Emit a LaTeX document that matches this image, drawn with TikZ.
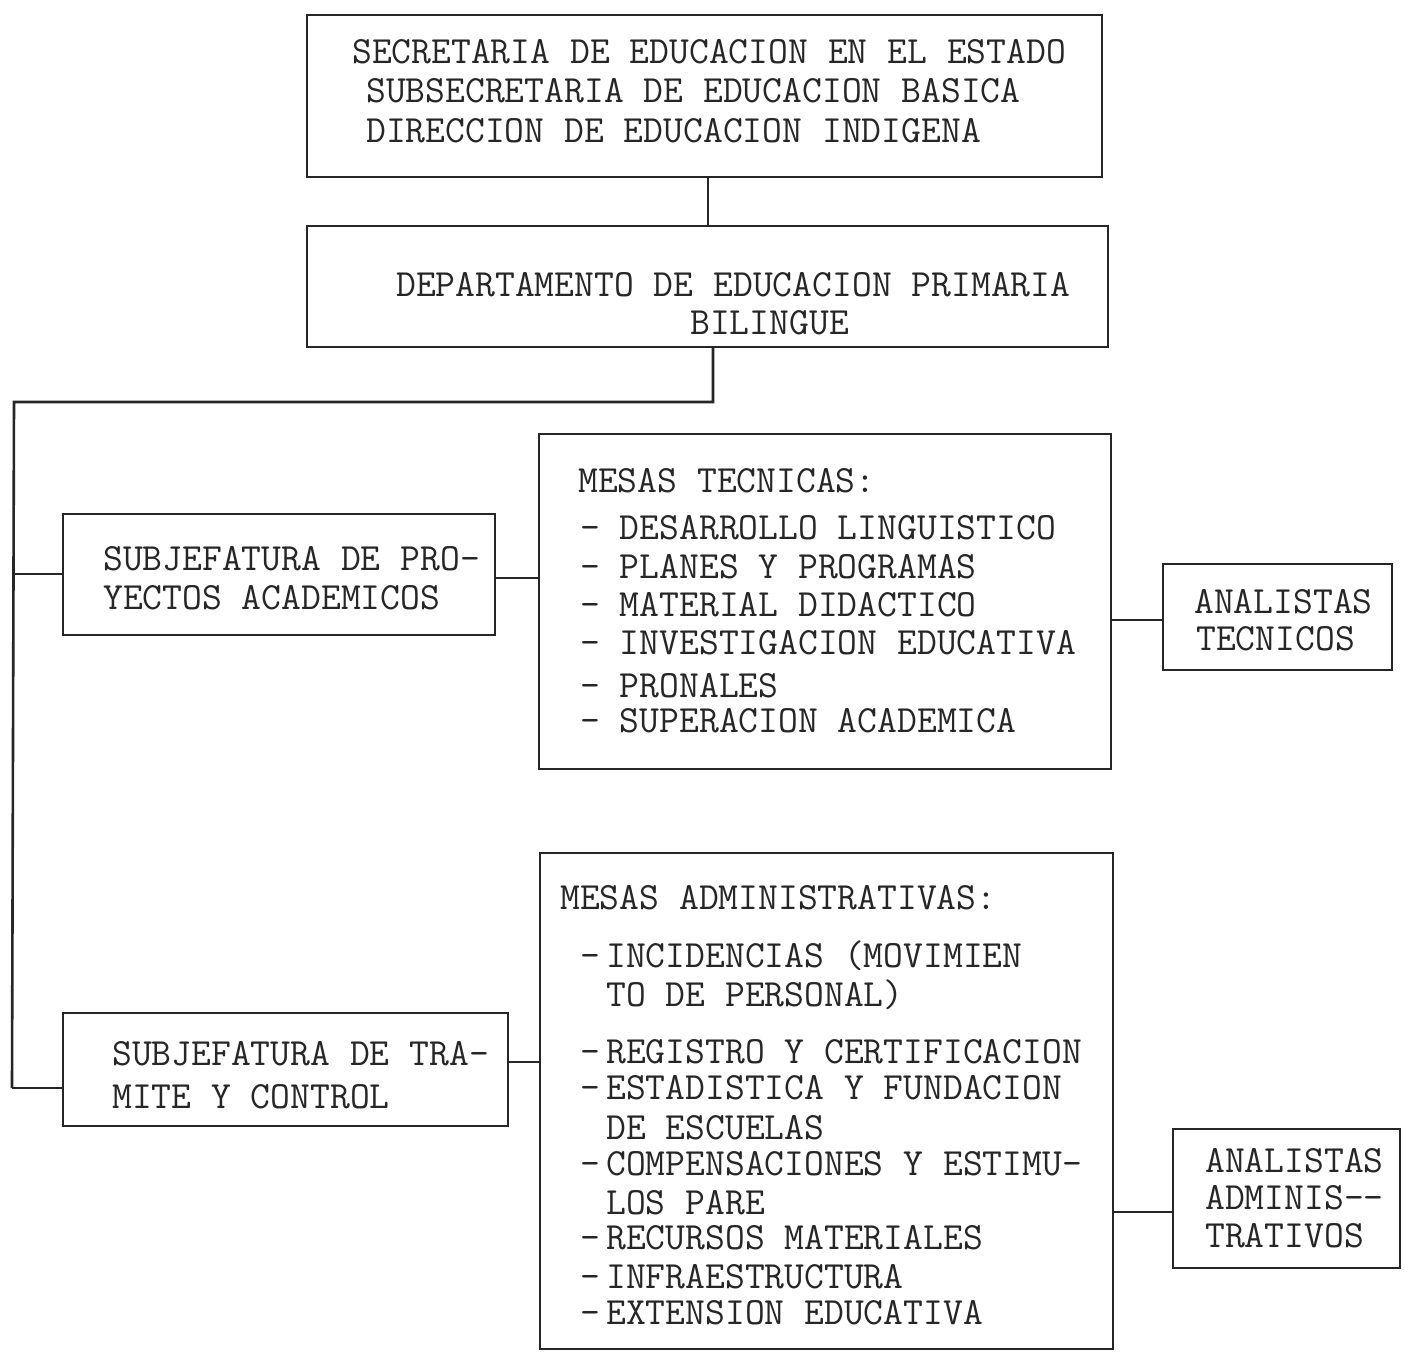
\documentclass[tikz,border=0pt]{standalone}
\usepackage{fontspec}
\begin{document}
\begin{tikzpicture}[x=1pt,y=-1pt,
  box/.style={draw=black!85, line width=1.6pt, inner sep=0pt},
  conn/.style={draw=black!85, line width=1.6pt},
  trunk/.style={draw=black!85, line width=2.6pt},
  txt/.style={anchor=base west, inner sep=0pt, font=\fontsize{38.5}{46}\selectfont\ttfamily, text=black!85}]
\useasboundingbox (0,0) rectangle (1404,1357);
\fill[white] (0,0) rectangle (1404,1357);

% boxes
\node[box, minimum width=795, minimum height=162] (b1) at (704.5,96) {};
\node[box, minimum width=801, minimum height=121] (b2) at (707.5,286.5) {};
\node[box, minimum width=432, minimum height=121] (b3) at (279,574.5) {};
\node[box, minimum width=572, minimum height=335] (b4) at (825,601.5) {};
\node[box, minimum width=229, minimum height=106] (b5) at (1277.5,617) {};
\node[box, minimum width=445, minimum height=113] (b6) at (285.5,1069.5) {};
\node[box, minimum width=573, minimum height=496] (b7) at (826.5,1101) {};
\node[box, minimum width=227, minimum height=139] (b8) at (1286.5,1198.5) {};

% texts
\node[txt] (t1a) at (352,63) {SECRETARIA DE EDUCACION EN EL ESTADO};
\node[txt] (t1b) at (366,102) {SUBSECRETARIA DE EDUCACION BASICA};
\node[txt] (t1c) at (366,142) {DIRECCION DE EDUCACION INDIGENA};

\node[txt] (t2a) at (396,296) {DEPARTAMENTO DE EDUCACION PRIMARIA};
\node[txt] (t2b) at (690,334) {BILINGUE};

\node[txt] (t3a) at (103,570) {SUBJEFATURA DE PRO-};
\node[txt] (t3b) at (103,609) {YECTOS ACADEMICOS};

\node[txt] (t4a) at (578,492) {MESAS TECNICAS:};
\node[txt] (t4b) at (580,539) {- DESARROLLO LINGUISTICO};
\node[txt] (t4c) at (580,578) {- PLANES Y PROGRAMAS};
\node[txt] (t4d) at (580,616) {- MATERIAL DIDACTICO};
\node[txt] (t4e) at (580,654) {- INVESTIGACION EDUCATIVA};
\node[txt] (t4f) at (580,697) {- PRONALES};
\node[txt] (t4g) at (580,732) {- SUPERACION ACADEMICA};

\node[txt] (t5a) at (1194,613) {ANALISTAS};
\node[txt] (t5b) at (1196,650) {TECNICOS};

\node[txt] (t6a) at (112,1065) {SUBJEFATURA DE TRA-};
\node[txt] (t6b) at (112,1108) {MITE Y CONTROL};

\node[txt] (t7a) at (560,909) {MESAS ADMINISTRATIVAS:};
\foreach \n/\yy in {d1/967,d3/1063,d4/1099,d6/1175,d8/1249,d9/1288,d10/1324}
  \node[txt] (\n) at (580,\yy) {-};
\node[txt] (t7b) at (606,967) {INCIDENCIAS (MOVIMIEN};
\node[txt] (t7c) at (606,1006) {TO DE PERSONAL)};
\node[txt] (t7d) at (606,1063) {REGISTRO Y CERTIFICACION};
\node[txt] (t7e) at (606,1099) {ESTADISTICA Y FUNDACION};
\node[txt] (t7f) at (606,1139) {DE ESCUELAS};
\node[txt] (t7g) at (606,1175) {COMPENSACIONES Y ESTIMU-};
\node[txt] (t7h) at (606,1214) {LOS PARE};
\node[txt] (t7i) at (606,1249) {RECURSOS MATERIALES};
\node[txt] (t7j) at (606,1288) {INFRAESTRUCTURA};
\node[txt] (t7k) at (606,1324) {EXTENSION EDUCATIVA};

\node[txt] (t8a) at (1205,1172) {ANALISTAS};
\node[txt] (t8b) at (1205,1209) {ADMINIS--};
\node[txt] (t8c) at (1205,1247) {TRATIVOS};

% connectors
\coordinate (c12) at (708,177);
\draw[conn] (c12) -- (c12 |- b2.north);
\coordinate (c2) at (713,347);
\coordinate (j1) at (14,402);
\coordinate (j2) at (12,1088);
\coordinate (j3) at (14,574);
\draw[trunk] (c2) |- (j1) -- (j2);
\draw[conn] (j3) -- (j3 -| b3.west);
\draw[conn] (j2) -- (j2 -| b6.west);
\coordinate (c34) at (495,578);
\draw[conn] (c34) -- (c34 -| b4.west);
\coordinate (c45) at (1111,620);
\draw[conn] (c45) -- (c45 -| b5.west);
\coordinate (c67) at (508,1062);
\draw[conn] (c67) -- (c67 -| b7.west);
\coordinate (c78) at (1113,1212);
\draw[conn] (c78) -- (c78 -| b8.west);
\end{tikzpicture}
\end{document}
